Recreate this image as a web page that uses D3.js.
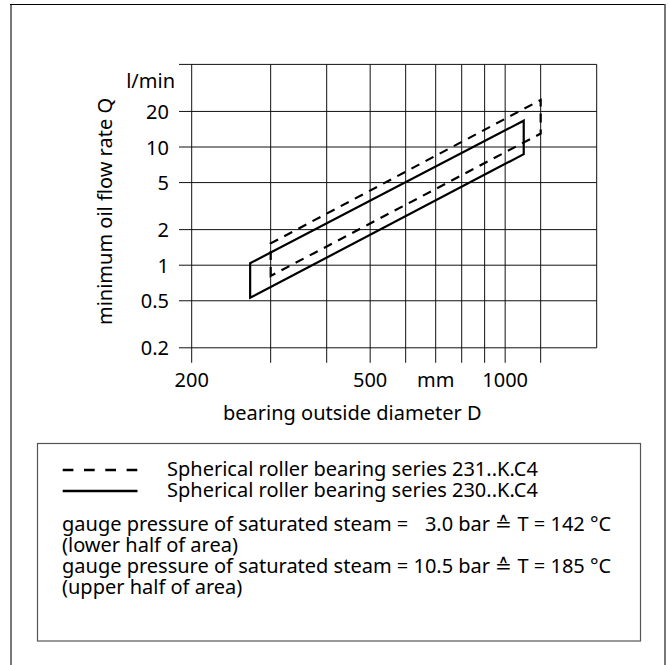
<!DOCTYPE html>
<html>
<head>
<meta charset="utf-8">
<script src="https://cdn.jsdelivr.net/npm/d3@7"></script>
<style>
  body { margin: 0; background: #fff; }
  svg text { font-family: "Noto Sans", sans-serif; fill: #000; }
</style>
</head>
<body>
<div id="chart-area"></div>
<script>
// bearing outside diameter D (mm) -> minimum oil flow rate Q (l/min)
const xTicks = [200, 300, 400, 500, 600, 700, 800, 900, 1000, 1200];
const xTickLabels = ["200", "", "", "500", "", "mm", "", "", "1000", ""];
const yTicks = [0.2, 0.5, 1, 2, 5, 10, 20];
const yTickLabels = ["0.2", "0.5", "1", "2", "5", "10", "20"];

// series 231..K.C4 (dashed)
const diam231 = [300, 1200];
const upper231 = [1.53, 25];
const lower231 = [0.81, 13];
// series 230..K.C4 (solid)
const diam230 = [270, 1100];
const upper230 = [1.04, 16.7];
const lower230 = [0.53, 8.7];

const seriesNames = ["Spherical roller bearing series 231..K.C4", "Spherical roller bearing series 230..K.C4"];
const noteLines = [
  "gauge pressure of saturated steam = \u20073.0 bar \u2259 T = 142 \u00B0C",
  "(lower half of area)",
  "gauge pressure of saturated steam = 10.5 bar \u2259 T = 185 \u00B0C",
  "(upper half of area)"
];

const W = 669, H = 665;

const svg = d3.select("#chart-area")
  .append("svg")
    .attr("width", W)
    .attr("height", H);

// page frame
svg.append("line").attr("x1", 11).attr("x2", 11).attr("y1", 4).attr("y2", H)
  .attr("stroke", "#777").attr("stroke-width", 2);
svg.append("line").attr("x1", 10).attr("x2", 665).attr("y1", 4.5).attr("y2", 4.5)
  .attr("stroke", "#000").attr("stroke-width", 1.2);
svg.append("line").attr("x1", 665).attr("x2", 665).attr("y1", 4).attr("y2", H)
  .attr("stroke", "#555").attr("stroke-width", 1.6);

const xScale = d3.scaleLog()
  .domain([200, 1600])
  .range([191.7, 596.7]);

const yScale = d3.scaleLog()
  .domain([0.2, 50])
  .range([347.8, 64.4]);

const plotLeft = 179;
const plotRight = xScale(1600);
const plotTop = yScale(50);
const plotBottom = yScale(0.2);

const grid = svg.append("g")
  .attr("stroke", "#111")
  .attr("stroke-width", 1);

// horizontal lines (also serve as y ticks)
grid.selectAll(".hline")
  .data(yTicks.concat([50]))
  .enter()
  .append("line")
    .attr("x1", plotLeft)
    .attr("x2", plotRight)
    .attr("y1", d => yScale(d))
    .attr("y2", d => yScale(d));

// vertical lines running down as x ticks
grid.selectAll(".vline")
  .data(xTicks)
  .enter()
  .append("line")
    .attr("x1", d => xScale(d))
    .attr("x2", d => xScale(d))
    .attr("y1", plotTop)
    .attr("y2", plotBottom + 15);

grid.append("line")
  .attr("x1", plotRight).attr("x2", plotRight)
  .attr("y1", plotTop).attr("y2", plotBottom);

// tick labels
svg.selectAll(".ylab")
  .data(yTicks)
  .enter()
  .append("text")
    .attr("x", 169)
    .attr("y", d => yScale(d))
    .attr("dy", "0.38em")
    .attr("text-anchor", "end")
    .style("font-size", "20px")
    .text((d, i) => yTickLabels[i]);

svg.append("text")
  .attr("x", 175)
  .attr("y", 88)
  .attr("text-anchor", "end")
  .style("font-size", "20px")
  .text("l/min");

svg.selectAll(".xlab")
  .data(xTicks)
  .enter()
  .append("text")
    .attr("x", d => xScale(d))
    .attr("y", 387)
    .attr("text-anchor", "middle")
    .style("font-size", "20px")
    .text((d, i) => xTickLabels[i]);

svg.append("text")
  .attr("x", 223)
  .attr("y", 420)
  .style("font-size", "20px")
  .text("bearing outside diameter D");

svg.append("text")
  .attr("transform", "rotate(-90)")
  .attr("x", -211.5)
  .attr("y", 112)
  .attr("text-anchor", "middle")
  .style("font-size", "20px")
  .text("minimum oil flow rate Q");

// the two areas
function areaPath(diam, lower, upper) {
  return d3.line()([
    [xScale(diam[0]), yScale(lower[0])],
    [xScale(diam[0]), yScale(upper[0])],
    [xScale(diam[1]), yScale(upper[1])],
    [xScale(diam[1]), yScale(lower[1])]
  ]) + "Z";
}

svg.append("path")
  .attr("d", areaPath(diam231, lower231, upper231))
  .attr("fill", "none")
  .attr("stroke", "#000")
  .attr("stroke-width", 2.2)
  .attr("stroke-dasharray", "9,7");

svg.append("path")
  .attr("d", areaPath(diam230, lower230, upper230))
  .attr("fill", "none")
  .attr("stroke", "#000")
  .attr("stroke-width", 2.2)
  .attr("stroke-linejoin", "miter");

// legend box
const legend = svg.append("g");

legend.append("rect")
  .attr("x", 37.5)
  .attr("y", 443.5)
  .attr("width", 603)
  .attr("height", 197.5)
  .attr("fill", "none")
  .attr("stroke", "#555")
  .attr("stroke-width", 1.2);

seriesNames.forEach((name, i) => {
  const y = 470 + i * 21;
  legend.append("line")
    .attr("x1", 62.7)
    .attr("x2", 137.5)
    .attr("y1", y)
    .attr("y2", y)
    .attr("stroke", "#000")
    .attr("stroke-width", 2.6)
    .attr("stroke-dasharray", i === 0 ? "10.7,10.6" : null);

  legend.append("text")
    .attr("x", 167)
    .attr("y", y + 6)
    .style("font-size", "20px")
    .text(name);
});

noteLines.forEach((t, i) => {
  legend.append("text")
    .attr("x", 62)
    .attr("y", 531 + i * 21)
    .style("font-size", "20px")
    .style("white-space", "pre")
    .text(t);
});
</script>
</body>
</html>
